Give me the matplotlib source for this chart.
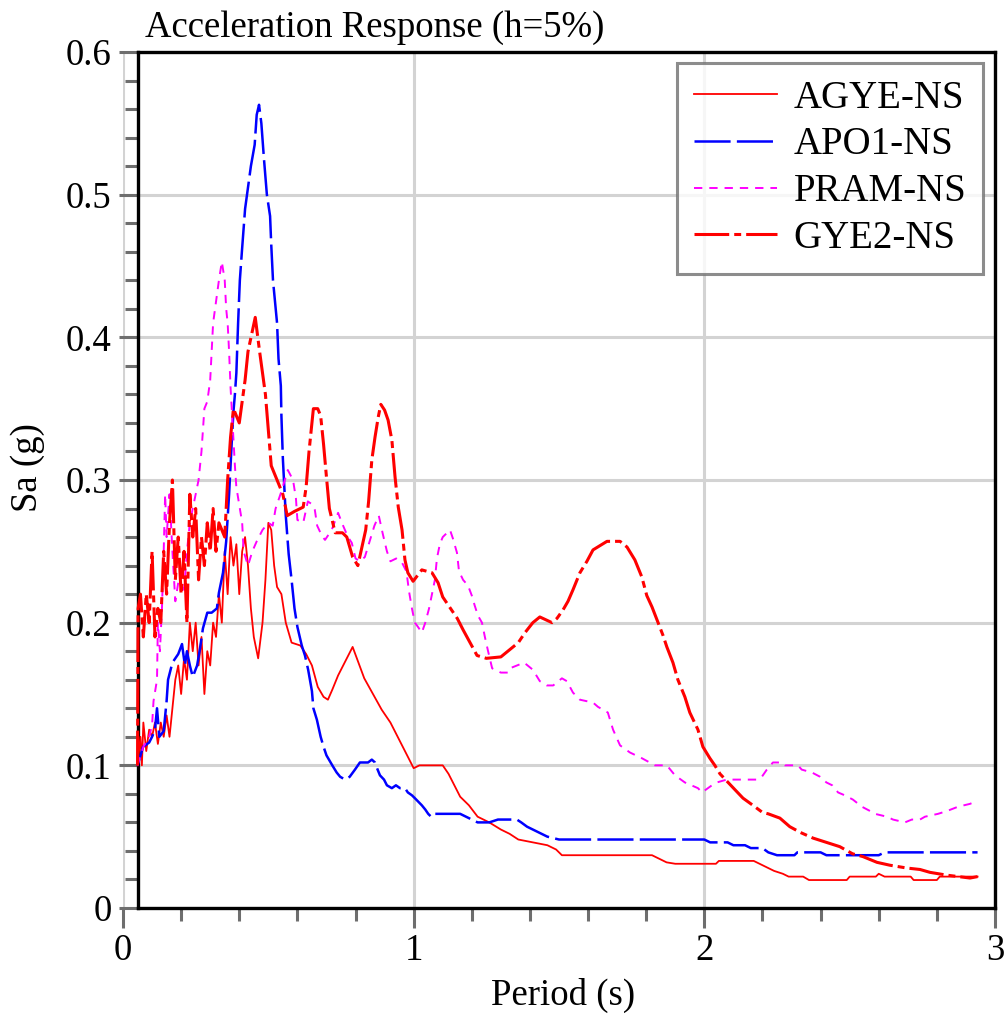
import numpy as np
import matplotlib
matplotlib.use('Agg')
import matplotlib.pyplot as plt
from matplotlib.ticker import MultipleLocator

# period (s) / Sa (g)
agye_t = [0.05, 0.06, 0.065, 0.07, 0.08, 0.09, 0.10, 0.11, 0.12, 0.13, 0.14, 0.15, 0.16, 0.17,
          0.18, 0.19, 0.20, 0.21, 0.22, 0.23, 0.24, 0.25, 0.26, 0.27, 0.28, 0.29, 0.30, 0.31,
          0.32, 0.33, 0.34, 0.35, 0.36, 0.37, 0.38, 0.39, 0.40, 0.41, 0.42, 0.43, 0.44, 0.45,
          0.465, 0.48, 0.49, 0.50, 0.51, 0.52, 0.53, 0.545, 0.56, 0.58, 0.61, 0.63, 0.65, 0.67,
          0.69, 0.705, 0.72, 0.74, 0.76, 0.79, 0.81, 0.83, 0.86, 0.89, 0.92, 0.95, 0.98, 1.0,
          1.02, 1.10, 1.12, 1.14, 1.16, 1.19, 1.22, 1.26, 1.30, 1.33, 1.36, 1.41, 1.46, 1.49,
          1.51, 1.82, 1.84, 1.87, 1.90, 2.04, 2.05, 2.17, 2.19, 2.21, 2.24, 2.27, 2.29, 2.34,
          2.36, 2.49, 2.50, 2.59, 2.60, 2.62, 2.71, 2.72, 2.80, 2.81, 2.94]
agye_sa = [0.100, 0.120, 0.100, 0.130, 0.110, 0.125, 0.120, 0.130, 0.115, 0.130, 0.120, 0.135,
           0.120, 0.140, 0.160, 0.170, 0.150, 0.175, 0.160, 0.200, 0.180, 0.200, 0.170, 0.190,
           0.150, 0.180, 0.170, 0.200, 0.190, 0.220, 0.200, 0.250, 0.220, 0.260, 0.240, 0.255,
           0.220, 0.250, 0.260, 0.240, 0.210, 0.190, 0.175, 0.200, 0.230, 0.270, 0.265, 0.240,
           0.225, 0.220, 0.200, 0.186, 0.184, 0.178, 0.170, 0.155, 0.148, 0.146, 0.153, 0.163,
           0.171, 0.183, 0.172, 0.161, 0.150, 0.139, 0.130, 0.118, 0.106, 0.098, 0.100, 0.100,
           0.094, 0.086, 0.078, 0.072, 0.064, 0.060, 0.055, 0.052, 0.048, 0.046, 0.044, 0.041,
           0.037, 0.037, 0.035, 0.032, 0.031, 0.031, 0.033, 0.033, 0.031, 0.029, 0.026, 0.024,
           0.022, 0.022, 0.0196, 0.0196, 0.022, 0.022, 0.024, 0.022, 0.022, 0.0196, 0.0196,
           0.022, 0.022]

apo1_t = [0.05, 0.069, 0.09, 0.10, 0.11, 0.117, 0.125, 0.14, 0.15, 0.155, 0.17, 0.19, 0.203,
          0.213, 0.22, 0.23, 0.24, 0.255, 0.265, 0.275, 0.29, 0.305, 0.323, 0.33, 0.344, 0.355,
          0.365, 0.37, 0.375, 0.38, 0.385, 0.39, 0.396, 0.402, 0.409, 0.42, 0.43, 0.44, 0.453,
          0.46, 0.468, 0.476, 0.485, 0.495, 0.506, 0.51, 0.516, 0.53, 0.535, 0.543, 0.545, 0.55,
          0.555, 0.56, 0.57, 0.58, 0.59, 0.60, 0.615, 0.626, 0.637, 0.65, 0.655, 0.667, 0.68,
          0.69, 0.70, 0.72, 0.735, 0.747, 0.764, 0.78, 0.798, 0.815, 0.843, 0.856, 0.867, 0.874,
          0.884, 0.898, 0.908, 0.925, 0.939, 0.953, 0.97, 0.98, 0.994, 1.004, 1.028, 1.04, 1.05,
          1.06, 1.07, 1.16, 1.18, 1.20, 1.22, 1.26, 1.29, 1.355, 1.37, 1.39, 1.41, 1.43, 1.46,
          1.50, 2.00, 2.02, 2.08, 2.10, 2.14, 2.16, 2.20, 2.22, 2.25, 2.31, 2.32, 2.40, 2.42,
          2.60, 2.62, 2.94]
apo1_sa = [0.100, 0.113, 0.116, 0.120, 0.125, 0.140, 0.120, 0.124, 0.145, 0.160, 0.172, 0.178,
           0.185, 0.170, 0.180, 0.170, 0.162, 0.170, 0.182, 0.196, 0.207, 0.207, 0.210, 0.221,
           0.235, 0.257, 0.290, 0.310, 0.330, 0.348, 0.360, 0.375, 0.410, 0.440, 0.460, 0.490,
           0.505, 0.520, 0.535, 0.556, 0.563, 0.550, 0.525, 0.500, 0.485, 0.465, 0.440, 0.410,
           0.385, 0.366, 0.345, 0.315, 0.295, 0.275, 0.248, 0.230, 0.210, 0.197, 0.184, 0.177,
           0.167, 0.152, 0.140, 0.132, 0.120, 0.113, 0.107, 0.100, 0.095, 0.092, 0.090, 0.092,
           0.097, 0.102, 0.102, 0.104, 0.102, 0.098, 0.093, 0.090, 0.086, 0.084, 0.086, 0.084,
           0.084, 0.081, 0.079, 0.077, 0.072, 0.069, 0.066, 0.064, 0.066, 0.066, 0.064, 0.062,
           0.060, 0.060, 0.062, 0.062, 0.060, 0.057, 0.055, 0.053, 0.050, 0.048, 0.048, 0.046,
           0.046, 0.044, 0.044, 0.042, 0.042, 0.039, 0.037, 0.037, 0.039, 0.039, 0.037, 0.037,
           0.039, 0.039]

pram_t = [0.05, 0.07, 0.09, 0.10, 0.105, 0.117, 0.12, 0.127, 0.134, 0.14, 0.145, 0.15, 0.16,
          0.17, 0.18, 0.19, 0.21, 0.22, 0.23, 0.245, 0.26, 0.27, 0.28, 0.29, 0.30, 0.31, 0.32,
          0.33, 0.34, 0.35, 0.355, 0.36, 0.365, 0.37, 0.378, 0.385, 0.39, 0.41, 0.415, 0.43,
          0.445, 0.46, 0.48, 0.50, 0.515, 0.525, 0.545, 0.567, 0.585, 0.595, 0.60, 0.62, 0.636,
          0.65, 0.66, 0.668, 0.684, 0.695, 0.718, 0.74, 0.753, 0.774, 0.787, 0.80, 0.815, 0.832,
          0.85, 0.865, 0.88, 0.894, 0.908, 0.92, 0.94, 0.96, 0.975, 0.984, 0.994, 1.004, 1.015,
          1.028, 1.04, 1.053, 1.063, 1.073, 1.08, 1.09, 1.10, 1.125, 1.135, 1.149, 1.156, 1.17,
          1.187, 1.20, 1.21, 1.221, 1.235, 1.245, 1.256, 1.27, 1.30, 1.324, 1.331, 1.355, 1.38,
          1.41, 1.434, 1.458, 1.48, 1.51, 1.527, 1.548, 1.572, 1.617, 1.634, 1.668, 1.686, 1.71,
          1.744, 1.785, 1.83, 1.871, 1.899, 1.933, 1.978, 1.992, 2.026, 2.043, 2.077, 2.18,
          2.198, 2.215, 2.236, 2.267, 2.277, 2.322, 2.335, 2.37, 2.398, 2.42, 2.44, 2.46, 2.483,
          2.511, 2.542, 2.57, 2.587, 2.628, 2.649, 2.69, 2.714, 2.742, 2.759, 2.804, 2.835,
          2.873, 2.914, 2.938]
pram_sa = [0.100, 0.113, 0.120, 0.128, 0.145, 0.160, 0.200, 0.180, 0.210, 0.250, 0.290, 0.260,
           0.290, 0.250, 0.215, 0.228, 0.223, 0.250, 0.270, 0.285, 0.300, 0.320, 0.350, 0.355,
           0.370, 0.410, 0.425, 0.440, 0.453, 0.440, 0.420, 0.410, 0.390, 0.365, 0.335, 0.310,
           0.295, 0.270, 0.250, 0.240, 0.250, 0.257, 0.265, 0.270, 0.268, 0.280, 0.292, 0.307,
           0.300, 0.287, 0.272, 0.270, 0.285, 0.283, 0.279, 0.268, 0.261, 0.258, 0.265, 0.277,
           0.270, 0.260, 0.256, 0.245, 0.243, 0.246, 0.258, 0.268, 0.275, 0.262, 0.250, 0.243,
           0.245, 0.242, 0.236, 0.222, 0.210, 0.200, 0.197, 0.193, 0.200, 0.210, 0.220, 0.230,
           0.245, 0.255, 0.260, 0.265, 0.259, 0.249, 0.236, 0.230, 0.226, 0.219, 0.212, 0.205,
           0.200, 0.190, 0.180, 0.168, 0.165, 0.165, 0.168, 0.170, 0.172, 0.167, 0.159, 0.156,
           0.156, 0.161, 0.159, 0.151, 0.146, 0.144, 0.141, 0.137, 0.125, 0.114, 0.109, 0.105,
           0.100, 0.100, 0.093, 0.088, 0.084, 0.081, 0.086, 0.088, 0.090, 0.090, 0.092, 0.097,
           0.102, 0.102, 0.100, 0.100, 0.097, 0.095, 0.092, 0.088, 0.086, 0.081, 0.079, 0.076,
           0.071, 0.068, 0.066, 0.064, 0.062, 0.060, 0.062, 0.062, 0.064, 0.066, 0.068, 0.071,
           0.073, 0.075]

gye2_t = [0.05, 0.052, 0.06, 0.07, 0.08, 0.09, 0.10, 0.11, 0.12, 0.13, 0.14, 0.15, 0.16, 0.17,
          0.18, 0.19, 0.20, 0.21, 0.22, 0.23, 0.24, 0.25, 0.26, 0.27, 0.28, 0.29, 0.30, 0.31,
          0.32, 0.33, 0.35, 0.36, 0.37, 0.38, 0.40, 0.42, 0.43, 0.455, 0.47, 0.49, 0.50, 0.51,
          0.53, 0.55, 0.565, 0.59, 0.62, 0.63, 0.64, 0.655, 0.67, 0.68, 0.69, 0.70, 0.71, 0.73,
          0.755, 0.77, 0.79, 0.808, 0.822, 0.835, 0.845, 0.856, 0.867, 0.878, 0.887, 0.90,
          0.912, 0.925, 0.936, 0.947, 0.96, 0.97, 0.98, 0.998, 1.028, 1.063, 1.084, 1.10, 1.12,
          1.15, 1.17, 1.194, 1.218, 1.25, 1.30, 1.33, 1.36, 1.383, 1.41, 1.434, 1.476, 1.493,
          1.514, 1.531, 1.548, 1.572, 1.596, 1.617, 1.641, 1.665, 1.71, 1.734, 1.761, 1.785,
          1.802, 1.82, 1.837, 1.858, 1.871, 1.892, 1.909, 1.933, 1.95, 1.978, 1.995, 2.019,
          2.036, 2.054, 2.077, 2.105, 2.133, 2.167, 2.20, 2.22, 2.26, 2.294, 2.33, 2.374, 2.42,
          2.466, 2.51, 2.546, 2.594, 2.638, 2.697, 2.742, 2.776, 2.835, 2.914, 2.94]
gye2_sa = [0.100, 0.210, 0.220, 0.190, 0.220, 0.200, 0.250, 0.190, 0.210, 0.200, 0.250, 0.220,
           0.270, 0.300, 0.230, 0.260, 0.220, 0.250, 0.200, 0.290, 0.260, 0.280, 0.230, 0.260,
           0.240, 0.270, 0.250, 0.280, 0.250, 0.270, 0.260, 0.300, 0.330, 0.350, 0.340, 0.370,
           0.390, 0.414, 0.390, 0.360, 0.335, 0.310, 0.300, 0.290, 0.275, 0.278, 0.281, 0.295,
           0.320, 0.350, 0.350, 0.345, 0.325, 0.302, 0.280, 0.263, 0.263, 0.260, 0.246, 0.240,
           0.253, 0.265, 0.285, 0.314, 0.330, 0.344, 0.353, 0.349, 0.342, 0.328, 0.302, 0.281,
           0.265, 0.244, 0.235, 0.229, 0.237, 0.235, 0.228, 0.218, 0.212, 0.203, 0.195, 0.186,
           0.177, 0.175, 0.176, 0.181, 0.186, 0.193, 0.200, 0.204, 0.200, 0.203, 0.209, 0.215,
           0.223, 0.235, 0.243, 0.251, 0.254, 0.257, 0.257, 0.253, 0.244, 0.232, 0.219, 0.211,
           0.202, 0.191, 0.183, 0.172, 0.160, 0.148, 0.137, 0.125, 0.113, 0.105, 0.100, 0.094,
           0.089, 0.083, 0.077, 0.072, 0.067, 0.066, 0.063, 0.057, 0.053, 0.049, 0.046, 0.043,
           0.038, 0.036, 0.032, 0.030, 0.028, 0.027, 0.025, 0.023, 0.021, 0.022]

plt.rcParams['font.family'] = ['Liberation Serif', 'DejaVu Serif']
plt.rcParams['lines.scale_dashes'] = False

W, H = 1005, 1015
fig = plt.figure(figsize=(W / 100, H / 100), dpi=100)
ax = fig.add_axes([123 / W, 107 / H, 872 / W, 856 / H])

ax.plot(agye_t, agye_sa, color='#ff0000', lw=1.3, label='AGYE-NS', zorder=3)
ax.plot(apo1_t, apo1_sa, color='#0000ff', lw=1.8, dashes=(26, 4.5), label='APO1-NS', zorder=3)
ax.plot(pram_t, pram_sa, color='#ff00ff', lw=1.4, dashes=(6, 5), label='PRAM-NS', zorder=3)
ax.plot(gye2_t, gye2_sa, color='#ff0000', lw=2.2, dashes=(25, 3.6, 5, 3.6),
        label='GYE2-NS', zorder=4)

ax.set_xlim(0, 3)
ax.set_ylim(0, 0.6)
ax.xaxis.set_major_locator(MultipleLocator(1))
ax.xaxis.set_minor_locator(MultipleLocator(0.2))
ax.yaxis.set_major_locator(MultipleLocator(0.1))
ax.yaxis.set_minor_locator(MultipleLocator(0.02))
ax.set_yticks([0, 0.1, 0.2, 0.3, 0.4, 0.5, 0.6])
ax.set_yticklabels(['0', '0.1', '0.2', '0.3', '0.4', '0.5', '0.6'])
ax.grid(True, which='major', color='#d3d3d3', lw=2.2, zorder=0)
ax.set_axisbelow(True)

tick_c = '#6e6e6e'
ax.tick_params(axis='y', which='major', direction='out', length=13.7, width=2.2,
               color=tick_c, labelsize=26.5, pad=5)
ax.tick_params(axis='y', which='minor', direction='out', length=9.4, width=2.2, color=tick_c)
ax.tick_params(axis='x', which='major', direction='out', length=14.4, width=2.2,
               color=tick_c, labelsize=26.5, pad=4)
ax.tick_params(axis='x', which='minor', direction='out', length=9, width=2.2, color=tick_c)

for s in ax.spines.values():
    s.set_color('black')
    s.set_linewidth(2.4)
ax.spines['left'].set_position(('data', 0.05))
ax.spines['top'].set_bounds(0.05, 3)
ax.spines['bottom'].set_bounds(0.05, 3)

leg = ax.legend(loc='upper right', bbox_to_anchor=(983 / W, 1 - 63 / H),
                bbox_transform=fig.transFigure, fontsize=28, frameon=True,
                fancybox=False, handlelength=2.15, handletextpad=0.42,
                labelspacing=0.25, borderpad=0.43, borderaxespad=0)
leg.get_frame().set_edgecolor('#707070')
leg.get_frame().set_linewidth(2.2)
leg.set_zorder(10)

fig.text(145 / W, 1 - 28 / H, 'Acceleration Response (h=5%)', fontsize=26.5,
         ha='left', va='center')
fig.text(28 / W, 1 - 468 / H, 'Sa (g)', fontsize=26.5, rotation=90,
         ha='center', va='center')
fig.text(563 / W, 1 - 995 / H, 'Period (s)', fontsize=26.5, ha='center', va='center')

fig.savefig('out.png', dpi=100)
